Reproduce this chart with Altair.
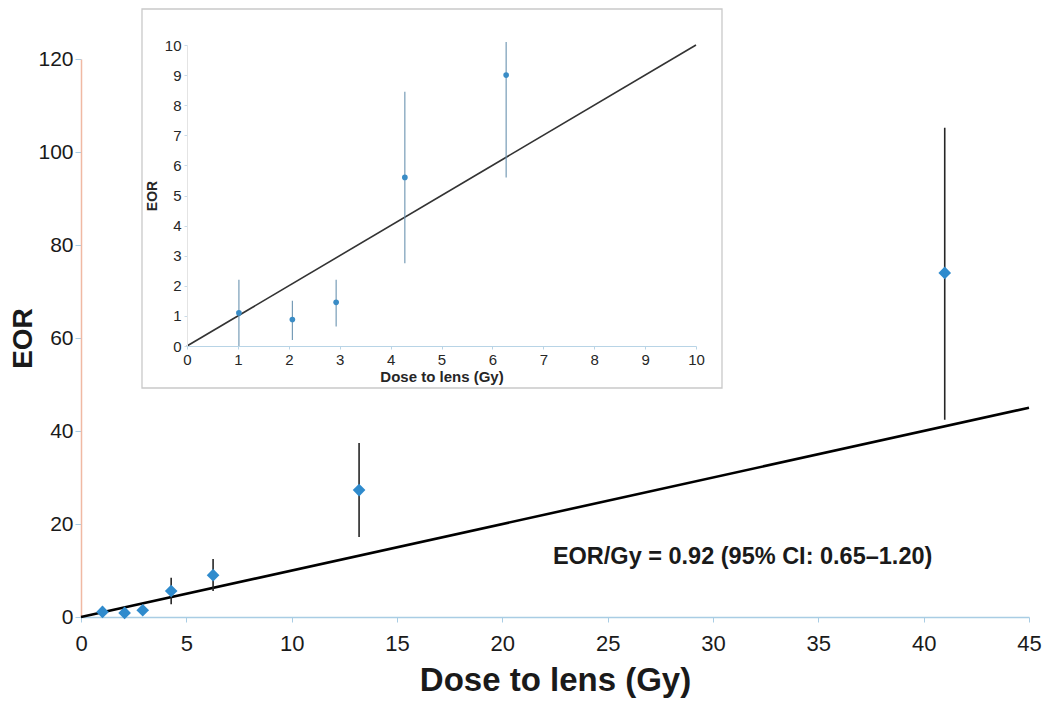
import altair as alt
import pandas as pd

# ---- data ----
dose = [1.02, 2.07, 2.93, 4.28, 6.27, 13.2, 41.0]
eor = [1.1, 0.88, 1.45, 5.6, 9.0, 27.3, 74.0]
ci_low = [0.0, 0.2, 0.65, 2.75, 5.6, 17.2, 42.4]
ci_high = [2.2, 1.5, 2.2, 8.45, 12.5, 37.4, 105.2]

fit_x = [0, 45]
fit_y = [0, 45]
inset_fit_x = [0, 10]
inset_fit_y = [0, 10]

x_ticks = [0, 5, 10, 15, 20, 25, 30, 35, 40, 45]
y_ticks = [0, 20, 40, 60, 80, 100, 120]
inset_ticks = [0, 1, 2, 3, 4, 5, 6, 7, 8, 9, 10]

annotation_text = ["EOR/Gy = 0.92 (95% CI: 0.65\u20131.20)"]
annotation_x = [22.4]
annotation_y = [12.9]

pts = pd.DataFrame({"dose": dose, "eor": eor, "lo": ci_low, "hi": ci_high})
fit = pd.DataFrame({"dose": fit_x, "eor": fit_y})
inset_fit = pd.DataFrame({"dose": inset_fit_x, "eor": inset_fit_y})
ann = pd.DataFrame({"x": annotation_x, "y": annotation_y, "t": annotation_text})

FONT = "Liberation Sans"
W, H = 948, 558
PL = 73

# ---- main chart ----
mx = alt.Scale(domain=[0, 45], nice=False, zero=False)
my = alt.Scale(domain=[0, 120], nice=False)

x_axis = alt.Axis(values=x_ticks, title="Dose to lens (Gy)", labelFontSize=22,
                  labelColor="#1a1a1a", labelFlush=False, labelPadding=11,
                  tickSize=5, tickColor="#a9cde4", domainColor="#a9cde4",
                  domainWidth=1.5, titleFontSize=33, titleFontWeight="bold",
                  titleColor="#1a1a1a", titlePadding=10, grid=False)
y_axis = alt.Axis(values=y_ticks, title="EOR", labelFontSize=21,
                  labelColor="#1a1a1a", labelPadding=2, tickSize=6,
                  tickColor="#a9cde4", domainColor="#f0b9a3", domainWidth=1.5,
                  titleFontSize=28, titleFontWeight="bold", titleColor="#1a1a1a",
                  titlePadding=0, grid=False)

main_line = alt.Chart(fit).mark_line(color="black", strokeWidth=2.6).encode(
    x=alt.X("dose:Q", scale=mx, axis=x_axis),
    y=alt.Y("eor:Q", scale=my, axis=y_axis),
)
main_bars = alt.Chart(pts).mark_rule(color="#262626", strokeWidth=1.6).encode(
    x=alt.X("dose:Q"), y=alt.Y("lo:Q"), y2="hi:Q"
)
main_pts = alt.Chart(pts).mark_point(shape="diamond", filled=True, size=160,
                                     color="#2f8bcd", opacity=1).encode(
    x=alt.X("dose:Q"), y=alt.Y("eor:Q")
)
main_text = alt.Chart(ann).mark_text(align="left", baseline="middle", fontSize=23.5,
                                     fontWeight="bold", color="#1a1a1a", font=FONT).encode(
    x=alt.X("x:Q"), y=alt.Y("y:Q"), text="t:N"
)
main = alt.layer(main_line, main_bars, main_pts, main_text)

# ---- inset frame ----
box = alt.Chart(pd.DataFrame({"a": [0]})).mark_rect(
    fill="white", stroke="#c9c9c9", strokeWidth=1.3
).encode(x=alt.value(142 - 8 - PL), x2=alt.value(722 - 8 - PL),
         y=alt.value(-50), y2=alt.value(329))

# ---- inset chart ----
ix0 = 187 - 8 - PL
ix = alt.Scale(domain=[0, 10], nice=False, range=[ix0, ix0 + 509])
iy = alt.Scale(domain=[0, 10], nice=False, range=[287, -14])

ix_axis = alt.Axis(values=inset_ticks, orient="bottom", offset=287 - H, zindex=2,
                   format="d", title="Dose to lens (Gy)", labelFontSize=15,
                   labelColor="#262626", labelFlush=False, labelPadding=3, tickSize=3,
                   tickColor="#b8d4e6", domainColor="#b8d4e6", titleFontSize=15,
                   titleFontWeight="bold", titleColor="#262626", titlePadding=2,
                   grid=False)
iy_axis = alt.Axis(values=inset_ticks, orient="left", offset=-ix0, zindex=2, title="EOR",
                   format="d", labelFontSize=15, labelColor="#262626", labelPadding=3,
                   tickSize=3, tickColor="#c8dbe8", domainColor="#e4e4e4",
                   titleFontSize=14, titleFontWeight="bold", titleColor="#262626",
                   titlePadding=5, grid=False)

in_pts = alt.Chart(pts).transform_filter("datum.dose <= 10").transform_calculate(
    hi_c="min(datum.hi, 10.1)"
)
inset_line = alt.Chart(inset_fit).mark_line(color="#333333", strokeWidth=1.6).encode(
    x=alt.X("dose:Q", scale=ix, axis=ix_axis),
    y=alt.Y("eor:Q", scale=iy, axis=iy_axis),
)
inset_bars = in_pts.mark_rule(color="#6a93b0", strokeWidth=1.1).encode(
    x=alt.X("dose:Q"), y=alt.Y("lo:Q"), y2="hi_c:Q"
)
inset_points = in_pts.mark_circle(size=32, color="#3a8cc6", opacity=1).encode(
    x=alt.X("dose:Q"), y=alt.Y("eor:Q")
)
inset = alt.layer(inset_line, inset_bars, inset_points)

chart = alt.layer(main, box, inset).resolve_scale(
    x="independent", y="independent"
).resolve_axis(x="independent", y="independent").properties(
    width=W, height=H,
    autosize=alt.AutoSizeParams(type="none"),
    padding={"left": PL, "top": 51, "right": 13, "bottom": 84},
).configure(
    font=FONT, background="white"
).configure_view(
    stroke="transparent", strokeWidth=0
)

chart.save("out.html", embed_options={"renderer": "svg", "actions": False})
